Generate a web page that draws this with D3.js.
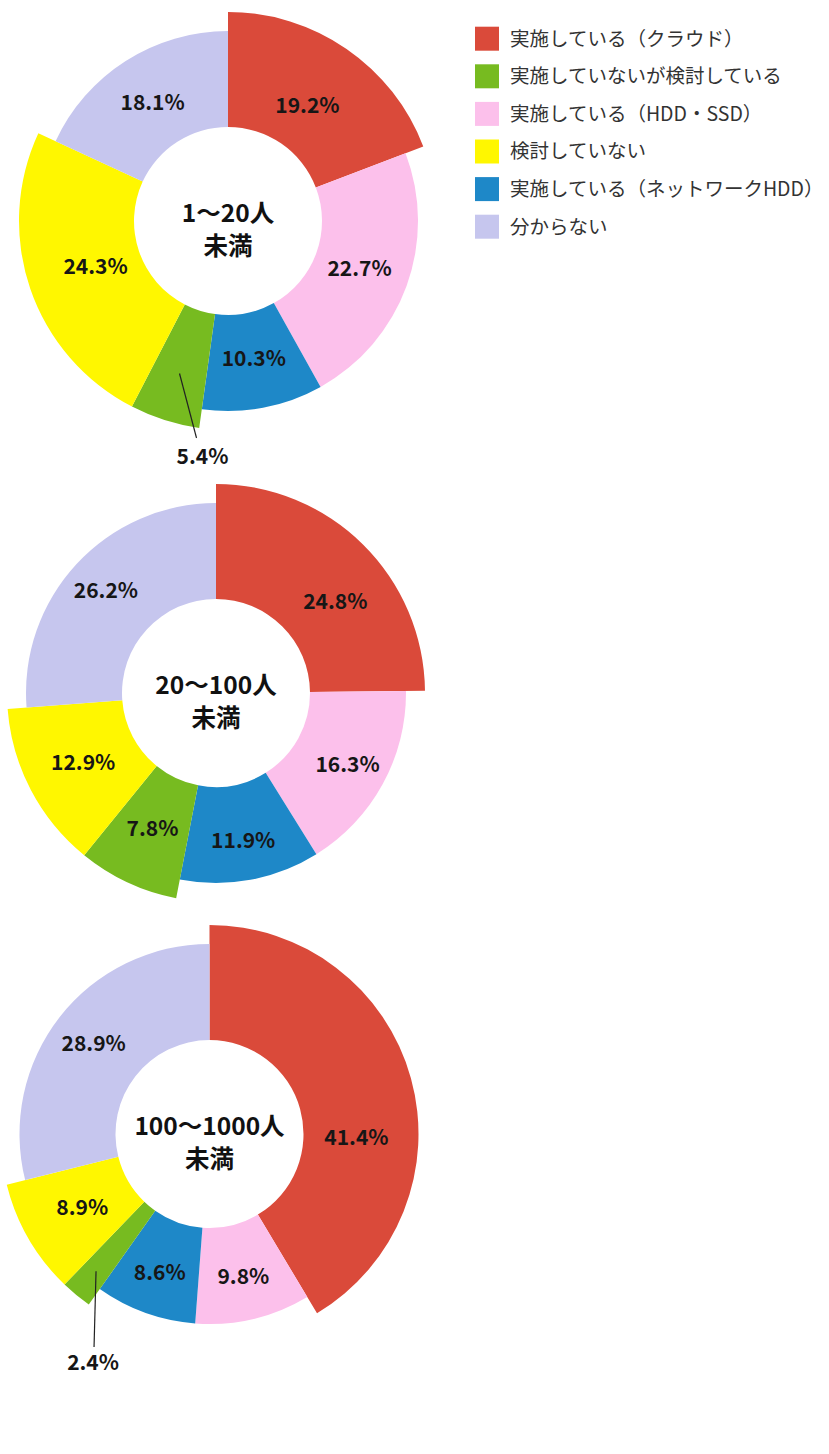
<!DOCTYPE html>
<html>
<head>
<meta charset="utf-8">
<script src="https://cdn.jsdelivr.net/npm/d3@7"></script>
<style>
    body { margin: 0; background: #fff; }
    svg { display: block; }
</style>
</head>
<body>
<div id="chart"></div>
<script>
// slice order, clockwise from 12 o'clock
const categories = [
    "実施している（クラウド）",
    "実施している（HDD・SSD）",
    "実施している（ネットワークHDD）",
    "実施していないが検討している",
    "検討していない",
    "分からない"
];
// legend order as printed
const legendOrder = [
    "実施している（クラウド）",
    "実施していないが検討している",
    "実施している（HDD・SSD）",
    "検討していない",
    "実施している（ネットワークHDD）",
    "分からない"
];
const groupNames = ["1〜20人", "20〜100人", "100〜1000人"];
const values1to20 = [19.2, 22.7, 10.3, 5.4, 24.3, 18.1];
const values20to100 = [24.8, 16.3, 11.9, 7.8, 12.9, 26.2];
const values100to1000 = [41.4, 9.8, 8.6, 2.4, 8.9, 28.9];

const colors = ["#DA4A3A", "#FCC0EB", "#1E88C8", "#77BB20", "#FFF700", "#C6C6EE"];
// the three "highlight" slices stick out further
const bigSlices = ["実施している（クラウド）", "実施していないが検討している", "検討していない"];

const width = 829, height = 1454;
const innerR = 94;
const fontFamily = "'Noto Sans CJK JP', 'Noto Sans', sans-serif";

// layout of the three donuts (labelTurn = degrees a label is pushed clockwise off the middle)
const layout = [
    {cx: 228, cy: 221, values: values1to20, labelR: 140, labelTurn: {},
        callout: {r: 160, dx: 17, endY: 217, labelDx: 6, labelY: 236}},
    {cx: 216, cy: 693, values: values20to100, labelR: 150, labelTurn: {"実施している（クラウド）": 8},
        callout: null},
    {cx: 209.5, cy: 1134, values: values100to1000, labelR: 147, labelTurn: {"実施している（クラウド）": 17},
        callout: {r: 178, dx: -2, endY: 213, labelDx: -1, labelY: 229}}
];

const color = d3.scaleOrdinal().domain(categories).range(colors);
const outerR = d3.scaleOrdinal()
    .domain(categories)
    .range(categories.map(c => bigSlices.includes(c) ? 209 : 190));

const svg = d3.select("#chart").append("svg")
    .attr("width", width)
    .attr("height", height);

const pie = d3.pie().sort(null).value(d => d.value);

layout.forEach((conf, gi) => {
    let data = categories.map((c, i) => ({category: c, value: conf.values[i]}));

    let g = svg.append("g")
        .attr("transform", `translate(${conf.cx},${conf.cy})`);

    let arcs = pie(data);

    g.selectAll("path.slice")
        .data(arcs)
        .enter()
        .append("path")
        .attr("class", "slice")
        .attr("fill", d => color(d.data.category))
        .attr("d", d => d3.arc().innerRadius(innerR).outerRadius(outerR(d.data.category))(d));

    // labels inside slices
    let labelPos = d => {
        let a = (d.startAngle + d.endAngle) / 2 + (conf.labelTurn[d.data.category] || 0) * Math.PI / 180;
        return [conf.labelR * Math.sin(a), -conf.labelR * Math.cos(a)];
    };
    g.selectAll("text.pct")
        .data(arcs.filter(d => d.data.value >= 6))
        .enter()
        .append("text")
        .attr("class", "pct")
        .attr("transform", d => `translate(${labelPos(d)})`)
        .attr("text-anchor", "middle")
        .attr("dy", "0.35em")
        .style("font-family", fontFamily)
        .style("font-weight", "bold")
        .style("font-size", "21px")
        .style("fill", "#161616")
        .text(d => d.data.value.toFixed(1) + "%");

    // small slices get a leader line
    if (conf.callout) {
        let co = conf.callout;
        arcs.filter(d => d.data.value < 6).forEach(d => {
            let mid = (d.startAngle + d.endAngle) / 2;
            let sx = co.r * Math.sin(mid), sy = -co.r * Math.cos(mid);
            let ex = sx + co.dx;
            g.append("line")
                .attr("x1", sx).attr("y1", sy)
                .attr("x2", ex).attr("y2", co.endY)
                .attr("stroke", "#222")
                .attr("stroke-width", 1.2);
            g.append("text")
                .attr("x", ex + co.labelDx)
                .attr("y", co.labelY)
                .attr("text-anchor", "middle")
                .attr("dy", "0.35em")
                .style("font-family", fontFamily)
                .style("font-weight", "bold")
                .style("font-size", "21px")
                .style("fill", "#161616")
                .text(d.data.value.toFixed(1) + "%");
        });
    }

    // centre title
    let title = g.append("text")
        .attr("text-anchor", "middle")
        .style("font-family", fontFamily)
        .style("font-weight", "bold")
        .style("font-size", "24.5px")
        .style("fill", "#111");
    title.append("tspan").attr("x", 0).attr("y", -8).attr("dy", "0.35em").text(groupNames[gi]);
    title.append("tspan").attr("x", 0).attr("y", 25).attr("dy", "0.35em").text("未満");
});

// legend
const legendY = d3.scalePoint()
    .domain(legendOrder)
    .range([38.7, 226.7]);

let legend = svg.append("g").attr("class", "legend");
let items = legend.selectAll("g")
    .data(legendOrder)
    .enter()
    .append("g")
    .attr("transform", d => `translate(475,${legendY(d)})`);

items.append("rect")
    .attr("x", 0).attr("y", -12)
    .attr("width", 24).attr("height", 24)
    .attr("fill", d => color(d));

items.append("text")
    .attr("x", 35)
    .attr("dy", "0.35em")
    .style("font-family", fontFamily)
    .style("font-size", "19.5px")
    .style("fill", "#333")
    .text(d => d);
</script>
</body>
</html>
